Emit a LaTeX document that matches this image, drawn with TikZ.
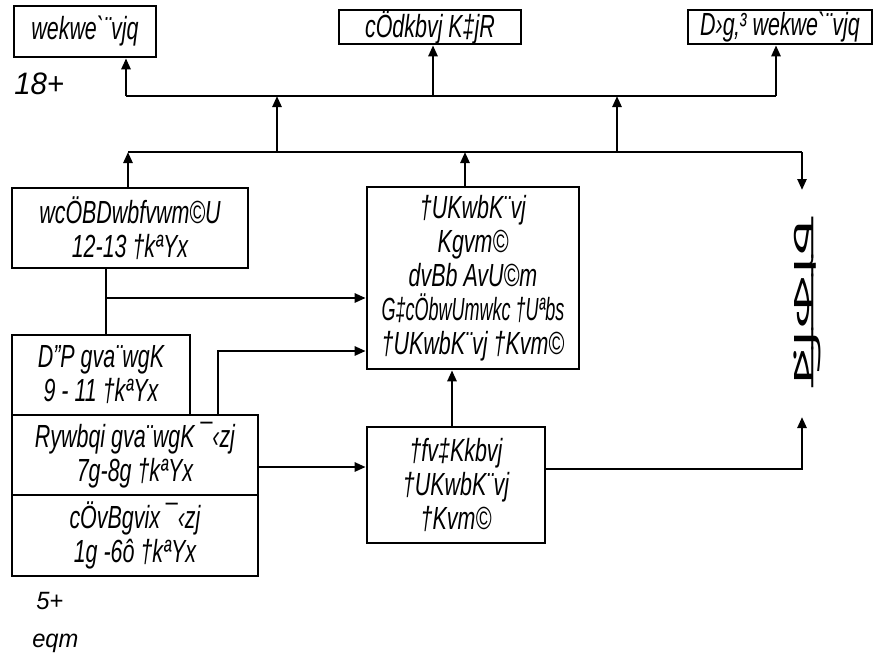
\documentclass[tikz,border=0pt]{standalone}
\usepackage{fontspec}
\setmainfont{Liberation Sans}[FakeStretch=0.67,Ligatures=TeXOff]
\newfontfamily\lblfont{Liberation Sans}[FakeStretch=0.95,Ligatures=TeXOff]
\newfontfamily\bnfont[Script=Bengali]{Hind Siliguri}
\usetikzlibrary{arrows.meta}
\newcommand\dgfont{\fontsize{32}{34}\selectfont\itshape}
\begin{document}
\begin{tikzpicture}[x=1pt,y=-1pt,line width=2.5pt,
  box/.style={draw,line width=2.6pt,inner sep=0pt,align=center,font=\dgfont},
  lbl/.style={inner sep=0pt,anchor=west},
  arr/.style={-{Triangle[length=11pt,width=9pt]}}]
\useasboundingbox (0,0) rectangle (877,654);
% top row
\node[box,minimum width=142pt,minimum height=51pt] (A) at (85,31.5) {wekwe`¨vjq};
\node[box,minimum width=182pt,minimum height=34pt] (B) at (430,27) {cÖdkbvj K‡jR};
\node[box,minimum width=184pt,minimum height=34pt] (C) at (780,27) {D›g‚³ wekwe`¨vjq};
\node[lbl,font=\lblfont\fontsize{31}{34}\selectfont\itshape] (age18) at (13,84) {18+};
% middle
\node[box,minimum width=236pt,minimum height=80pt] (D) at (130,228) {wcÖBDwbfvwm©U\\12-13 †kªYx};
\node[box,minimum width=212pt,minimum height=182pt] (E) at (473,278) {†UKwbK¨vj\\Kgvm©\\dvBb AvU©m\\\scalebox{0.84}[1]{G‡cÖbwUmwkc †Uªbs}\\†UKwbK¨vj †Kvm©};
\node[box,minimum width=178pt,minimum height=80pt] (F) at (101,375) {D”P gva¨wgK\\9 - 11 †kªYx};
\node[box,minimum width=246pt,minimum height=80pt] (G) at (135,455) {Rywbqi gva¨wgK ¯‹zj\\7g-8g †kªYx};
\node[box,minimum width=246pt,minimum height=81pt] (H) at (135,535.5) {cÖvBgvix ¯‹zj\\1g -6ô †kªYx};
\node[box,minimum width=178pt,minimum height=116pt] (I) at (456,485) {†fv‡Kkbvj\\†UKwbK¨vj\\†Kvm©};
\node[lbl,font=\lblfont\fontsize{25}{30}\selectfont\itshape] (age5) at (35,601) {5+};
\node[lbl,font=\lblfont\fontsize{25}{30}\selectfont\itshape] (agelbl) at (31,643) {eqm};
\node[rotate=-90,inner sep=0pt,font=\bnfont\fontsize{30}{30}\selectfont] (job) at (807,302) {\scalebox{2.4}[1]{চাকরি}};
% buses
\coordinate (t1) at (126,96);
\coordinate (t2) at (433,96);
\coordinate (t3) at (776,96);
\coordinate (l1) at (128,152);
\coordinate (la) at (277,152);
\coordinate (lb) at (617,152);
\coordinate (lc) at (465,152);
\coordinate (l4) at (802,152);
\coordinate (jobtop) at (802,190);
\coordinate (jobbot) at (802,417);
\draw (t1) -- (t3);
\draw[arr] (t1) -- (t1 |- A.south);
\draw[arr] (t2) -- (t2 |- B.south);
\draw[arr] (t3) -- (t3 |- C.south);
\draw (l1) -- (l4);
\draw[arr] (la) -- (la |- t1);
\draw[arr] (lb) -- (lb |- t1);
\draw[arr] (D.north -| l1) -- (l1);
\draw[arr] (E.north -| lc) -- (lc);
\draw[arr] (l4) -- (jobtop);
% lower connections
\coordinate (fd) at (106,298);
\draw (F.north -| fd) -- (D.south -| fd);
\draw[arr] (fd) -- (fd -| E.west);
\coordinate (ge) at (218,351);
\draw[arr] (G.north -| ge) -- (ge) -- (ge -| E.west);
\coordinate (gi) at (258,467);
\draw[arr] (G.east |- gi) -- (I.west |- gi);
\coordinate (ie) at (452,400);
\draw[arr] (I.north -| ie) -- (E.south -| ie);
\coordinate (ij) at (545,469);
\draw[arr] (I.east |- ij) -| (jobbot);
\end{tikzpicture}
\end{document}
